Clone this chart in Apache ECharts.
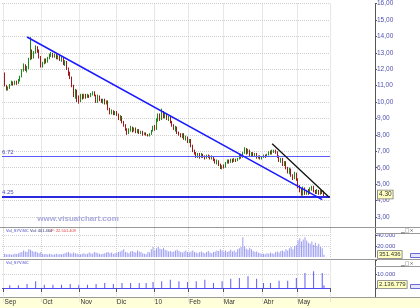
<!DOCTYPE html>
<html><head><meta charset="utf-8">
<script src="https://cdn.jsdelivr.net/npm/echarts@6/dist/echarts.min.js"></script>
<style>html,body{margin:0;padding:0;background:#fff}#c{width:420px;height:308px}</style>
</head><body><div id="c"></div><script>
// ---- calendar (trading days) ----
const firstDay = '2009-09-01', lastDay = '2010-05-24';
const holidays = ['2009-12-25', '2010-01-01', '2010-04-02', '2010-04-05'];
const monthLabels = {'09':'Sep','10':'Oct','11':'Nov','12':'Dic','01':'10','02':'Feb','03':'Mar','04':'Abr','05':'May'};

// ---- daily OHLC [open, close, low, high] ----
const ohlc = [
[11.70,11.05,10.95,11.80],[11.00,10.80,10.70,11.05],[10.80,10.85,10.70,10.95],[10.85,11.05,10.80,11.10],[11.05,11.20,11.00,11.30],
[11.20,11.10,11.00,11.25],[11.10,11.25,11.05,11.30],[11.25,11.15,11.05,11.30],[11.15,11.30,11.10,11.40],[11.30,11.55,11.25,11.60],
[11.55,11.90,11.50,12.00],[11.90,12.25,11.85,12.35],[12.25,12.00,11.90,12.30],[12.00,12.05,11.80,12.20],[12.05,12.60,12.00,12.70],
[12.60,13.10,12.55,13.95],[13.10,12.70,12.60,13.20],[12.70,13.00,12.65,13.10],[13.00,13.30,12.95,13.45],[13.30,13.15,13.00,13.40],
[13.15,12.75,12.65,13.20],[12.75,12.20,12.10,12.80],[12.20,12.35,12.10,12.45],[12.35,12.55,12.30,12.65],[12.55,12.45,12.35,12.65],
[12.45,12.70,12.40,12.75],[12.70,12.85,12.60,12.95],[12.85,12.95,12.75,13.05],[12.95,12.80,12.70,13.00],[12.80,12.90,12.70,12.95],
[12.90,12.70,12.60,12.95],[12.70,12.80,12.60,12.85],[12.80,12.60,12.50,12.85],[12.60,12.65,12.45,12.75],[12.65,12.35,12.25,12.70],
[12.35,12.45,12.20,12.55],[12.45,12.05,11.95,12.50],[12.05,11.75,11.60,12.10],[11.75,11.50,11.40,11.85],[11.50,11.00,10.90,11.55],
[11.00,10.40,10.30,11.05],[10.40,10.70,10.20,10.80],[10.70,10.30,10.00,10.75],[10.30,10.05,9.90,10.40],[10.05,10.40,10.00,10.50],
[10.40,10.25,10.15,10.50],[10.25,10.45,10.20,10.50],[10.45,10.30,10.20,10.50],[10.30,10.40,10.25,10.50],[10.40,10.35,10.25,10.45],
[10.35,10.50,10.30,10.55],[10.50,10.60,10.40,10.65],[10.60,10.40,10.35,10.65],[10.40,10.00,9.95,10.45],[10.00,10.35,9.95,10.45],
[10.35,10.15,10.05,10.40],[10.15,10.05,9.95,10.20],[10.05,10.15,9.90,10.20],[10.15,9.95,9.85,10.20],[9.95,10.05,9.85,10.10],
[10.05,9.60,9.50,10.10],[9.60,9.35,9.25,9.65],[9.35,9.45,9.25,9.55],[9.45,9.30,9.20,9.50],[9.30,9.40,9.20,9.45],
[9.40,9.25,9.15,9.45],[9.25,9.00,8.90,9.30],[9.00,9.10,8.85,9.20],[9.10,8.80,8.70,9.15],[8.80,8.60,8.50,8.85],
[8.60,8.35,8.25,8.65],[8.35,8.10,8.00,8.40],[8.10,8.30,8.05,8.40],[8.30,8.45,8.20,8.55],[8.45,8.25,8.15,8.50],
[8.25,8.40,8.20,8.45],[8.40,8.20,8.10,8.45],[8.20,8.30,8.10,8.35],[8.30,8.15,8.05,8.35],[8.15,8.20,8.05,8.25],
[8.20,8.05,7.95,8.25],[8.05,8.10,8.00,8.15],[8.10,8.00,7.95,8.15],[8.00,7.95,7.90,8.05],[7.95,8.05,7.90,8.10],
[8.05,8.25,8.00,8.30],[8.25,8.45,8.20,8.55],[8.45,8.35,8.25,8.60],[8.35,8.90,8.30,9.00],[8.90,9.20,8.80,9.30],
[9.20,8.95,8.85,9.30],[8.95,9.35,8.90,9.60],[9.35,9.10,9.00,9.45],[9.10,9.25,9.00,9.35],[9.25,9.00,8.90,9.30],
[9.00,9.10,8.85,9.15],[9.10,8.80,8.70,9.15],[8.80,8.60,8.50,8.85],[8.60,8.40,8.30,8.65],[8.40,8.45,8.20,8.55],
[8.45,8.15,8.05,8.50],[8.15,8.05,7.95,8.20],[8.05,7.95,7.85,8.10],[7.95,8.05,7.80,8.10],[8.05,7.80,7.70,8.10],
[7.80,7.85,7.65,7.95],[7.85,7.60,7.50,7.90],[7.60,7.70,7.50,7.75],[7.70,7.35,7.25,7.75],[7.35,7.05,6.95,7.40],
[7.05,6.90,6.80,7.10],[6.90,6.70,6.60,6.95],[6.70,6.80,6.60,6.90],[6.80,6.65,6.55,6.90],[6.65,6.80,6.60,6.90],
[6.80,6.70,6.60,6.85],[6.70,6.60,6.50,6.75],[6.60,6.75,6.55,6.80],[6.75,6.70,6.60,6.80],[6.70,6.60,6.50,6.75],
[6.60,6.65,6.50,6.75],[6.65,6.50,6.40,6.70],[6.50,6.35,6.25,6.55],[6.35,6.40,6.20,6.50],[6.40,6.20,6.10,6.45],
[6.20,6.00,5.92,6.25],[6.00,6.10,5.90,6.15],[6.10,6.05,5.95,6.20],[6.05,6.30,6.00,6.35],[6.30,6.45,6.25,6.50],
[6.45,6.35,6.25,6.50],[6.35,6.50,6.30,6.55],[6.50,6.40,6.30,6.55],[6.40,6.50,6.35,6.60],[6.50,6.45,6.35,6.55],
[6.45,6.55,6.40,6.60],[6.55,6.75,6.50,6.85],[6.75,6.65,6.55,6.85],[6.65,6.90,6.60,6.95],[6.90,7.15,6.85,7.25],
[7.15,6.90,6.80,7.20],[6.90,7.05,6.85,7.15],[7.05,6.80,6.70,7.10],[6.80,6.90,6.70,6.95],[6.90,6.75,6.65,6.95],
[6.75,6.85,6.65,6.90],[6.85,6.65,6.55,6.90],[6.65,6.70,6.55,6.75],[6.70,6.60,6.50,6.75],[6.60,6.65,6.50,6.70],
[6.65,6.75,6.60,6.80],[6.75,6.70,6.60,6.80],[6.70,6.80,6.65,6.85],[6.80,6.95,6.75,7.00],[6.95,6.85,6.80,7.05],
[6.85,7.00,6.80,7.10],[7.00,7.05,6.90,7.10],[7.05,6.95,6.85,7.10],[6.95,6.70,6.60,7.00],[6.70,6.45,6.35,6.75],
[6.45,6.55,6.30,6.60],[6.55,6.20,6.10,6.60],[6.20,6.35,6.10,6.40],[6.35,6.00,5.90,6.40],[6.00,5.75,5.65,6.05],
[5.75,5.90,5.60,6.00],[5.90,5.55,5.45,5.95],[5.55,5.35,5.25,5.60],[5.35,5.65,5.30,5.75],[5.65,5.30,5.20,5.70],
[5.30,4.85,4.75,5.35],[4.85,4.65,4.50,4.95],[4.65,4.55,4.30,4.75],[4.55,4.75,4.30,4.85],[4.75,4.50,4.35,4.80],
[4.50,4.60,4.35,4.65],[4.60,4.45,4.35,4.70],[4.45,4.70,4.40,4.80],[4.70,4.85,4.60,4.90],[4.85,4.60,4.50,4.90],
[4.60,4.45,4.40,4.65],[4.45,4.60,4.40,4.70],[4.60,4.45,4.35,4.65],[4.45,4.55,4.35,4.65],[4.55,4.50,4.40,4.60],
[4.50,4.30,4.25,4.60]
];

// ---- daily volume ----
const dailyVol = [
6000,5000,4500,5500,4000,5000,6000,5500,7000,8000,9000,12000,10000,9000,14000,13000,11000,9000,10000,8000,7000,9000,
6000,5000,5500,4500,6000,5000,4000,5000,6000,4500,5500,5000,6000,7000,8000,9000,7000,6000,8000,7000,6000,5000,
5000,6000,7000,5000,6000,8000,7000,6000,9000,8000,7000,6000,5000,6000,7000,8000,9000,7000,8000,6000,7000,
8000,9000,10000,12000,14000,9000,8000,7000,10000,11000,9000,8000,12000,10000,9000,7000,6000,5000,9000,8000,14000,18000,
12000,16000,18000,15000,14000,17000,13000,12000,10000,11000,9000,10000,12000,13000,11000,9000,8000,10000,12000,9000,
8000,10000,12000,9000,8000,7000,9000,10000,8000,7000,9000,11000,8000,7000,9000,10000,12000,11000,14000,12000,
10000,12000,9000,11000,13000,10000,12000,9000,14000,16000,18000,36000,20000,15000,13000,17000,14000,11000,9000,10000,8000,7000,6000,
6000,5000,7000,6000,8000,7000,6000,9000,10000,8000,11000,12000,10000,14000,12000,16000,18000,14000,20000,22000,
30000,34000,28000,32000,36000,30000,26000,24000,28000,22000,26000,20000,24000,18000,16000,4000
];

// ---- weekly volume ----
const weekDates = ['2009-09-04','2009-09-11','2009-09-18','2009-09-25','2009-10-02','2009-10-09','2009-10-16','2009-10-23','2009-10-30',
'2009-11-06','2009-11-13','2009-11-20','2009-11-27','2009-12-04','2009-12-11','2009-12-18','2009-12-24','2009-12-31',
'2010-01-08','2010-01-15','2010-01-22','2010-01-29','2010-02-05','2010-02-12','2010-02-19','2010-02-26',
'2010-03-05','2010-03-12','2010-03-19','2010-03-26','2010-04-01','2010-04-09','2010-04-16','2010-04-23','2010-04-30',
'2010-05-07','2010-05-14','2010-05-21','2010-05-24'];
const weekVol = [2000,2000,2900,4900,2400,2400,2400,2900,2400,2400,2900,3650,2900,3650,3650,3650,3650,4400,
4900,6100,4900,4400,4900,6100,3650,4900,6800,7300,8500,6800,3650,3650,5300,5300,7300,11000,12200,11000,2000];

// ---- levels / trend lines ----
const levels = [6.72, 4.25];
const trendBlue = [['2009-09-18', 13.96], ['2010-05-21', 4.06]];
const trendBlack = [['2010-04-12', 7.46], ['e3', 4.20]];
const lastClose = '4.30', lastVolDaily = '351.436', lastVolWeekly = '2.136.779';

// build categories
const dates = [];
(function(){
  const d = new Date(firstDay + 'T00:00:00Z'), end = new Date(lastDay + 'T00:00:00Z');
  while (d <= end) {
    const s = d.toISOString().slice(0,10), wd = d.getUTCDay();
    if (wd !== 0 && wd !== 6 && holidays.indexOf(s) < 0) dates.push(s);
    d.setUTCDate(d.getUTCDate() + 1);
  }
})();
const cats = ['b0'].concat(dates, ['e1','e2','e3']);
const EMPTY = ['-','-','-','-'];
const candleData = [EMPTY].concat(ohlc, [EMPTY, EMPTY, EMPTY]);
const volData = ['-'].concat(dailyVol, ['-','-','-']);
const weekData = cats.map(c => { const i = weekDates.indexOf(c); return i >= 0 ? weekVol[i] : '-'; });

const isMonthStart = function(i){
  const v = cats[i]; if (!v || v[0] !== '2') return false;
  const p = cats[i-1]; return !p || p[0] !== '2' || p.slice(5,7) !== v.slice(5,7);
};
const FONT = 'Liberation Sans, Arial, sans-serif';
const thousands = v => String(Math.round(v)).replace(/\B(?=(\d{3})+(?!\d))/g, '.');
const grid = { color: '#cfcfcf', type: [1, 1] };

const xAxes = [0,1,2].map(i => ({
  type: 'category', gridIndex: i, data: cats, boundaryGap: true,
  axisLine: { show: false },
  axisTick: { show: i === 2, interval: isMonthStart, length: 4, lineStyle: { color: '#555' } },
  axisLabel: { show: i === 2, interval: isMonthStart, formatter: v => monthLabels[v.slice(5,7)] || '',
    align: 'left', margin: 1, fontSize: 6.5, color: '#333', fontFamily: FONT },
  splitLine: { show: true, interval: isMonthStart, lineStyle: grid },
  offset: i === 2 ? -4 : 0, z: i === 2 ? 60 : 0
}));

const axisBase = {
  type: 'value', position: 'right', offset: 45,
  axisLine: { show: true, lineStyle: { color: '#555' } },
  axisTick: { show: true, length: 2, lineStyle: { color: '#555' } }
};

const option = {
  animation: false,
  backgroundColor: '#fff',
  grid: [
    { left: 2, top: 0, width: 328, height: 233.4 },
    { left: 2, top: 228, width: 328, height: 29 },
    { left: 2, top: 260.6, width: 328, height: 41.1 }
  ],
  xAxis: xAxes,
  yAxis: [
    Object.assign({}, axisBase, { gridIndex: 0, min: 2, max: 16, interval: 1,
      axisLabel: { showMinLabel: false, margin: 2, fontSize: 6.5, color: '#5050b0', fontFamily: FONT,
        formatter: v => v.toFixed(2).replace('.', ',') },
      splitLine: { show: true, showMinLine: false, lineStyle: grid } }),
    Object.assign({}, axisBase, { gridIndex: 1, min: 0, max: 52700, interval: 20000,
      axisLabel: { showMinLabel: false, showMaxLabel: false, margin: 2, fontSize: 6, color: '#5050b0', fontFamily: FONT,
        formatter: v => thousands(v) },
      splitLine: { show: true, showMinLine: false, showMaxLine: false, lineStyle: grid } }),
    Object.assign({}, axisBase, { gridIndex: 2, min: -10000, max: 20000, interval: 10000,
      axisLabel: { margin: 2, fontSize: 6, color: '#5050b0', fontFamily: FONT,
        formatter: v => v === 10000 ? thousands(v) : '' },
      splitLine: { show: true, showMinLine: false, showMaxLine: false, lineStyle: grid } })
  ],
  series: [
    { type: 'candlestick', xAxisIndex: 0, yAxisIndex: 0, data: candleData, barWidth: 1,
      itemStyle: { color: '#1a8a1a', color0: '#a01818', borderColor: '#1a8a1a', borderColor0: '#a01818', borderWidth: 1 },
      markLine: { symbol: 'none', silent: true, animation: false,
        data: [
          { yAxis: levels[0], lineStyle: { color: '#5a5aff', width: 1, type: 'solid' },
            label: { show: true, position: 'insideStartTop', formatter: String(levels[0]), fontSize: 6, color: '#5050c0', fontFamily: FONT, distance: [0, 1] } },
          { yAxis: levels[1], lineStyle: { color: '#2a2ae0', width: 2, type: 'solid' },
            label: { show: true, position: 'insideStartTop', formatter: String(levels[1]), fontSize: 6, color: '#5050c0', fontFamily: FONT, distance: [0, 1] } },
          [ { coord: trendBlue[0], lineStyle: { color: '#1a1aff', width: 1.5, type: 'solid' }, label: { show: false } }, { coord: trendBlue[1] } ],
          [ { coord: trendBlack[0], lineStyle: { color: '#111', width: 1.3, type: 'solid' }, label: { show: false } }, { coord: trendBlack[1] } ]
        ] } },
    { type: 'bar', xAxisIndex: 1, yAxisIndex: 1, data: volData, barWidth: 1, itemStyle: { color: '#9c9cf2' } },
    { type: 'bar', xAxisIndex: 2, yAxisIndex: 2, data: weekData, barWidth: 1, itemStyle: { color: '#5c5cf0' },
      markLine: { symbol: 'none', silent: true, data: [ { yAxis: 0 } ], label: { show: false },
        lineStyle: { color: '#4a4af0', width: 1, type: 'solid' } } }
  ],
  graphic: [
    { type: 'line', shape: { x1: 0, y1: 227.5, x2: 420, y2: 227.5 }, style: { stroke: '#999', lineWidth: 1 }, z: 40 },
    { type: 'line', shape: { x1: 0, y1: 259.5, x2: 420, y2: 259.5 }, style: { stroke: '#999', lineWidth: 1 }, z: 40 },
    { type: 'line', shape: { x1: 375, y1: 233.5, x2: 420, y2: 233.5 }, style: { stroke: '#999', lineWidth: 1 }, z: 40 },
    { type: 'line', shape: { x1: 375, y1: 266.5, x2: 420, y2: 266.5 }, style: { stroke: '#999', lineWidth: 1 }, z: 40 },
    { type: 'rect', shape: { x: -1, y: 297.5, width: 422, height: 12 }, style: { fill: '#ffffd9', stroke: '#999', lineWidth: 1 }, z: 50 },
    { type: 'text', x: 78, y: 219, z: 30, style: { text: 'www.visualchart.com', fill: '#a9a9dc', font: 'bold 8px ' + FONT, align: 'center', verticalAlign: 'middle' } },
    { type: 'text', x: 378, y: 194.5, z: 40, style: { text: lastClose, fill: '#333', font: '6.5px ' + FONT, verticalAlign: 'middle', backgroundColor: '#ffffc0', borderColor: '#777', borderWidth: 0.8, padding: [1, 1, 0, 1] } },
    { type: 'text', x: 378, y: 254.5, z: 40, style: { text: lastVolDaily, fill: '#333', font: '6px ' + FONT, verticalAlign: 'middle', backgroundColor: '#ffffc0', borderColor: '#777', borderWidth: 0.8, padding: [1, 1, 0, 1] } },
    { type: 'text', x: 378, y: 284.5, z: 40, style: { text: lastVolWeekly, fill: '#333', font: '6px ' + FONT, verticalAlign: 'middle', backgroundColor: '#ffffc0', borderColor: '#777', borderWidth: 0.8, padding: [1, 1, 0, 1] } },
    { type: 'rect', shape: { x: 410.5, y: 253.5, width: 10, height: 4 }, style: { fill: '#e6e6ff', stroke: '#6a6ad0', lineWidth: 1 }, z: 40 },
    { type: 'rect', shape: { x: 410.5, y: 284.5, width: 10, height: 4 }, style: { fill: '#e6e6ff', stroke: '#6a6ad0', lineWidth: 1 }, z: 40 },
    { type: 'text', x: 401, y: 231, z: 40, style: { text: '▁□×', fill: '#555', font: '5px DejaVu Sans', verticalAlign: 'middle' } },
    { type: 'text', x: 401, y: 263.5, z: 40, style: { text: '▁□×', fill: '#555', font: '5px DejaVu Sans', verticalAlign: 'middle' } },
    { type: 'text', x: 6, y: 230.5, z: 40, style: { text: 'Vol_SYV.MC', fill: '#4848c8', font: '4px ' + FONT, verticalAlign: 'middle' } },
    { type: 'text', x: 30, y: 230.5, z: 40, style: { text: 'Vol: 401.460', fill: '#303070', font: '4px ' + FONT, verticalAlign: 'middle' } },
    { type: 'text', x: 51, y: 230.5, z: 40, style: { text: 'P: 22.501.409', fill: '#e03a3a', font: '4px ' + FONT, verticalAlign: 'middle' } },
    { type: 'text', x: 6, y: 262.7, z: 40, style: { text: 'Vol_SYV.MC', fill: '#4848c8', font: '4px ' + FONT, verticalAlign: 'middle' } }
  ]
};
const chart = echarts.init(document.getElementById('c'));
chart.setOption(option);
</script></body></html>
